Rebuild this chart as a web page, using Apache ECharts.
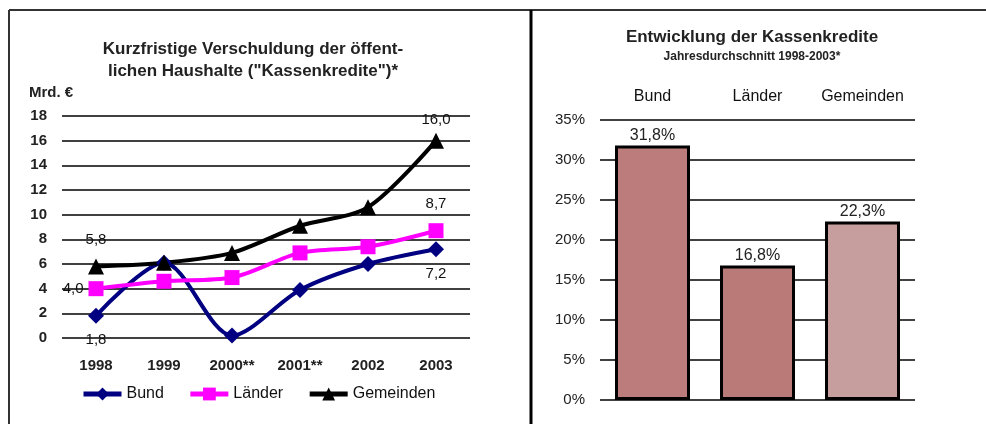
<!DOCTYPE html>
<html>
<head>
<meta charset="utf-8">
<script src="https://cdn.jsdelivr.net/npm/echarts@6/dist/echarts.min.js"></script>
<style>html,body{margin:0;padding:0;background:#fff}#c{width:986px;height:424px}</style>
</head>
<body>
<div id="c"></div>
<script>
// ---- data ----
const years = ['1998', '1999', '2000**', '2001**', '2002', '2003'];
const bund = [1.8, 6.1, 0.2, 3.9, 6.0, 7.2];
const laender = [4.0, 4.6, 4.9, 6.9, 7.4, 8.7];
const gemeinden = [5.8, 6.1, 6.9, 9.1, 10.6, 16.0];
const yTicksLeft = [0, 18, 2];
const barCats = ['Bund', 'Länder', 'Gemeinden'];
const barVals = [31.8, 16.8, 22.3];
const yTicksRight = [0, 35, 5];

const F = '"Liberation Sans", Arial, sans-serif';
const fmt = v => v.toFixed(1).replace('.', ',');

function withLabels(vals, spec) {
  return vals.map((v, i) => {
    if (!spec[i]) return v;
    return { value: v, label: Object.assign({ show: true, formatter: fmt(v), color: '#111', fontFamily: F, fontSize: 15 }, spec[i]) };
  });
}

const chart = echarts.init(document.getElementById('c'));
chart.setOption({
  animation: false,
  backgroundColor: '#fff',
  textStyle: { fontFamily: F },
  graphic: [
    { type: 'line', shape: { x1: 9, y1: 10, x2: 986, y2: 10 }, style: { stroke: '#333', lineWidth: 2 } },
    { type: 'line', shape: { x1: 9, y1: 10, x2: 9, y2: 424 }, style: { stroke: '#333', lineWidth: 2 } },
    { type: 'line', shape: { x1: 531, y1: 10, x2: 531, y2: 424 }, style: { stroke: '#000', lineWidth: 3 } },
    { type: 'text', left: 29, top: 85, style: { text: 'Mrd. €', font: 'bold 15px ' + F, fill: '#222' } }
  ],
  title: [
    { text: 'Kurzfristige Verschuldung der öffent-\nlichen Haushalte ("Kassenkredite")*', left: 248, top: 33, textAlign: 'center',
      textStyle: { fontFamily: F, fontSize: 17, fontWeight: 'bold', color: '#222', lineHeight: 22 } },
    { text: 'Entwicklung der Kassenkredite', subtext: 'Jahresdurchschnitt 1998-2003*', left: 747, top: 24, textAlign: 'center', itemGap: 5,
      textStyle: { fontFamily: F, fontSize: 17, fontWeight: 'bold', color: '#222' },
      subtextStyle: { fontFamily: F, fontSize: 12, fontWeight: 'bold', color: '#222' } }
  ],
  legend: {
    left: 76, top: 381, itemWidth: 38, itemHeight: 16, itemGap: 24,
    lineStyle: { width: 5 },
    textStyle: { fontFamily: F, fontSize: 16, color: '#111' },
    data: ['Bund', 'Länder', 'Gemeinden']
  },
  grid: [
    { left: 62, right: 516, top: 116, bottom: 86 },
    { left: 600, right: 71, top: 120, bottom: 24 }
  ],
  xAxis: [
    { type: 'category', gridIndex: 0, data: years, boundaryGap: true,
      axisLine: { show: false }, axisTick: { show: false },
      axisLabel: { interval: 0, margin: 20, fontFamily: F, fontSize: 15, fontWeight: 'bold', color: '#222' } },
    { type: 'category', gridIndex: 1, data: barCats, position: 'top',
      axisLine: { show: false }, axisTick: { show: false },
      axisLabel: { interval: 0, hideOverlap: false, margin: 15, fontFamily: F, fontSize: 16, color: '#111' } }
  ],
  yAxis: [
    { type: 'value', gridIndex: 0, min: yTicksLeft[0], max: yTicksLeft[1], interval: yTicksLeft[2],
      axisLine: { show: false }, axisTick: { show: false },
      axisLabel: { margin: 15, fontFamily: F, fontSize: 15, fontWeight: 'bold', color: '#222' },
      splitLine: { lineStyle: { color: '#000', width: 1.5 } } },
    { type: 'value', gridIndex: 1, min: yTicksRight[0], max: yTicksRight[1], interval: yTicksRight[2],
      axisLine: { show: false }, axisTick: { show: false },
      axisLabel: { margin: 15, formatter: '{value}%', fontFamily: F, fontSize: 15, color: '#222' },
      splitLine: { lineStyle: { color: '#000', width: 1.5 } } }
  ],
  series: [
    { name: 'Bund', type: 'line', xAxisIndex: 0, yAxisIndex: 0, smooth: 0.3,
      symbol: 'diamond', symbolSize: 16, color: '#000080',
      lineStyle: { width: 4, color: '#000080' }, itemStyle: { color: '#000080' },
      data: withLabels(bund, { 0: { position: 'bottom', distance: 9 }, 5: { position: 'bottom', distance: 9 } }) },
    { name: 'Länder', type: 'line', xAxisIndex: 0, yAxisIndex: 0, smooth: 0.3,
      symbol: 'rect', symbolSize: 15, color: '#ff00ff',
      lineStyle: { width: 4, color: '#ff00ff' }, itemStyle: { color: '#ff00ff' },
      data: withLabels(laender, { 0: { position: 'left', distance: 5 }, 5: { position: 'top', distance: 12 } }) },
    { name: 'Gemeinden', type: 'line', xAxisIndex: 0, yAxisIndex: 0, smooth: 0.3,
      symbol: 'triangle', symbolSize: 16, color: '#000',
      lineStyle: { width: 4, color: '#000' }, itemStyle: { color: '#000' },
      data: withLabels(gemeinden, { 0: { position: 'top', distance: 11 }, 5: { position: 'top', distance: 5 } }) },
    { name: 'Anteil', type: 'bar', xAxisIndex: 1, yAxisIndex: 1, barWidth: 75,
      data: barVals.map((v, i) => ({ value: v, itemStyle: { color: ['#bc7c7b', '#b97a78', '#c59e9d'][i] } })),
      itemStyle: { borderColor: '#000', borderWidth: 3 },
      label: { show: true, position: 'top', distance: 2, formatter: p => fmt(p.value) + '%', fontFamily: F, fontSize: 16, color: '#222' } }
  ]
});
</script>
</body>
</html>
